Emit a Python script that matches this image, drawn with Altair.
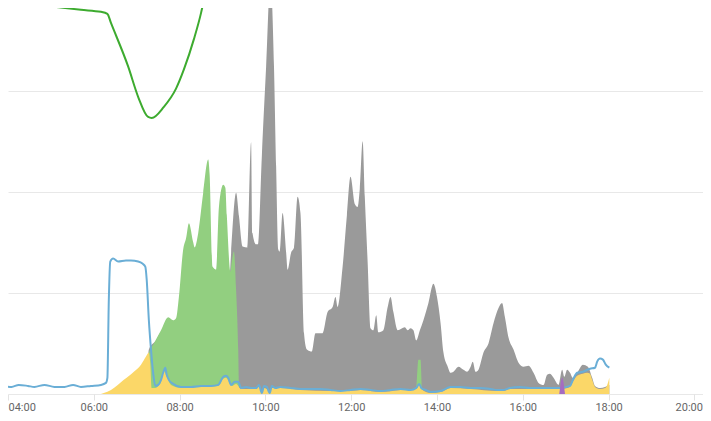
import altair as alt
import pandas as pd

# ---- data (time of day, kW) ----
green_line_times = ["03:51", "04:28", "05:05", "05:42", "06:10", "06:19", "06:24", "06:48", "07:02",
                    "07:16", "07:21", "07:38", "07:55", "08:06", "08:20", "08:30", "08:34", "08:44", "08:58"]
green_line_values = [3.89, 3.86, 3.83, 3.80, 3.78, 3.76, 3.67, 3.24, 2.94,
                     2.74, 2.73, 2.84, 3.02, 3.21, 3.51, 3.77, 3.90, 4.30, 4.80]

blue_times = ["03:51", "04:05", "04:15", "04:28", "04:37", "04:51", "05:05", "05:19", "05:31", "05:42",
              "05:56", "06:10", "06:17", "06:19", "06:21", "06:23", "06:27", "06:34", "06:45", "06:52",
              "07:02", "07:08", "07:12", "07:14", "07:17", "07:20", "07:23", "07:26", "07:30", "07:34",
              "07:37", "07:40", "07:42", "07:45", "07:51", "08:02", "08:16", "08:30", "08:44", "08:54",
              "09:01", "09:05", "09:08", "09:12", "09:17", "09:22", "09:26", "09:33", "09:40", "09:47",
              "09:51", "09:55", "09:58", "10:02", "10:06", "10:09", "10:14", "10:21", "10:35", "10:49",
              "11:03", "11:17", "11:31", "11:45", "11:59", "12:13", "12:27", "12:41", "12:55", "13:09",
              "13:23", "13:31", "13:35", "13:38", "13:44", "13:51", "14:05", "14:19", "14:33", "14:47",
              "15:01", "15:15", "15:24", "15:33", "15:42", "15:56", "16:10", "16:24", "16:38", "16:52",
              "17:06", "17:10", "17:16", "17:24", "17:34", "17:41", "17:44", "17:48", "17:52", "17:56",
              "18:01"]
blue_values = [0.08, 0.07, 0.09, 0.08, 0.07, 0.09, 0.07, 0.07, 0.09, 0.07,
               0.08, 0.09, 0.11, 0.16, 0.93, 1.31, 1.34, 1.31, 1.32, 1.32,
               1.31, 1.29, 1.26, 1.13, 0.73, 0.44, 0.21, 0.08, 0.09, 0.14,
               0.21, 0.26, 0.19, 0.14, 0.10, 0.07, 0.07, 0.08, 0.08, 0.09,
               0.17, 0.18, 0.16, 0.09, 0.12, 0.12, 0.06, 0.07, 0.06, 0.06,
               0.09, 0.01, 0.08, 0.07, 0.01, 0.08, 0.06, 0.07, 0.06, 0.05,
               0.05, 0.05, 0.04, 0.03, 0.04, 0.05, 0.04, 0.03, 0.04, 0.05,
               0.04, 0.06, 0.10, 0.06, 0.04, 0.02, 0.03, 0.07, 0.07, 0.06,
               0.06, 0.05, 0.04, 0.04, 0.06, 0.07, 0.06, 0.06, 0.06, 0.06,
               0.08, 0.14, 0.21, 0.22, 0.25, 0.26, 0.32, 0.35, 0.34, 0.29,
               0.26]

yellow_times = ["06:10", "06:14", "06:24", "06:42", "06:56", "07:06", "07:13", "07:17", "07:19", "07:21",
                "07:26", "07:34", "07:38", "07:42", "07:48", "08:02", "08:30", "08:54", "09:01", "09:05",
                "09:09", "09:13", "09:19", "09:26", "09:47", "09:51", "09:55", "09:58", "10:02", "10:06",
                "10:09", "10:21", "10:49", "11:31", "11:59", "12:13", "12:41", "13:09", "13:31", "13:35",
                "13:38", "13:51", "14:05", "14:19", "14:47", "15:24", "15:33", "15:42", "16:52", "17:06",
                "17:10", "17:16", "17:24", "17:30", "17:34", "17:37", "17:41", "17:48", "17:55", "17:58",
                "18:01"]
yellow_values = [0.00, 0.01, 0.04, 0.14, 0.22, 0.29, 0.37, 0.41, 0.30, 0.06,
                 0.06, 0.12, 0.23, 0.17, 0.09, 0.06, 0.07, 0.08, 0.15, 0.16,
                 0.12, 0.08, 0.10, 0.05, 0.05, 0.07, 0.01, 0.06, 0.05, 0.01,
                 0.06, 0.06, 0.04, 0.03, 0.03, 0.04, 0.02, 0.04, 0.05, 0.09,
                 0.05, 0.01, 0.02, 0.06, 0.05, 0.03, 0.03, 0.05, 0.05, 0.07,
                 0.12, 0.18, 0.20, 0.21, 0.20, 0.14, 0.07, 0.05, 0.06, 0.09,
                 0.16]

green_times = ["07:14", "07:17", "07:24", "07:34", "07:44", "07:51", "07:55", "07:59", "08:05", "08:09",
               "08:13", "08:19", "08:21", "08:26", "08:33", "08:40", "08:42", "08:46", "08:51", "08:55",
               "09:01", "09:04", "09:06", "09:11", "09:13", "09:16", "09:19", "09:22", "09:23", "09:24",
               "13:30", "13:31", "13:34", "13:37", "13:39", "13:41"]
green_values = [0.00, 0.40, 0.50, 0.63, 0.76, 0.73, 0.75, 0.96, 1.43, 1.54,
                1.69, 1.50, 1.45, 1.59, 1.99, 2.32, 2.17, 1.26, 1.23, 1.85,
                2.07, 2.04, 1.77, 1.21, 1.31, 1.41, 1.03, 0.44, 0.09, 0.00,
                0.00, 0.06, 0.34, 0.34, 0.06, 0.00]

gray_times = ["07:14", "07:17", "07:27", "07:37", "07:48", "08:30", "09:06", "09:12", "09:19", "09:23",
              "09:28", "09:35", "09:40", "09:42", "09:47", "09:50", "09:55", "10:01", "10:07", "10:12",
              "10:15", "10:18", "10:20", "10:24", "10:29", "10:31", "10:36", "10:40", "10:45", "10:49",
              "10:54", "10:58", "11:05", "11:10", "11:20", "11:27", "11:34", "11:38", "11:41", "11:48",
              "11:54", "11:59", "12:05", "12:09", "12:12", "12:16", "12:19", "12:23", "12:27", "12:31",
              "12:35", "12:38", "12:45", "12:51", "12:55", "12:59", "13:05", "13:15", "13:19", "13:23",
              "13:27", "13:31", "13:36", "13:41", "13:48", "13:55", "14:00", "14:05", "14:09", "14:15",
              "14:19", "14:23", "14:30", "14:37", "14:42", "14:47", "14:50", "14:54", "14:58", "15:05",
              "15:12", "15:19", "15:26", "15:31", "15:35", "15:40", "15:47", "15:54", "16:01", "16:08",
              "16:15", "16:22", "16:29", "16:34", "16:38", "16:43", "16:50", "16:55", "16:58", "17:02",
              "17:06", "17:10", "17:16", "17:24", "17:31", "17:37", "17:41", "17:48", "17:55", "18:01"]
gray_values = [0.00, 0.44, 0.53, 0.63, 0.63, 0.53, 0.63, 1.39, 1.99, 1.76,
               1.46, 1.45, 2.49, 1.59, 1.48, 1.48, 2.35, 3.24, 4.10, 3.24,
               2.25, 1.43, 1.41, 1.79, 1.40, 1.23, 1.40, 1.45, 1.95, 1.79,
               0.60, 0.44, 0.42, 0.60, 0.60, 0.81, 0.86, 0.96, 0.86, 1.26,
               1.77, 2.15, 1.88, 1.85, 2.03, 2.50, 1.95, 1.30, 0.65, 0.63,
               0.78, 0.61, 0.63, 0.86, 0.96, 0.81, 0.63, 0.66, 0.63, 0.65,
               0.63, 0.53, 0.63, 0.73, 0.90, 1.09, 0.96, 0.70, 0.41, 0.27,
               0.21, 0.22, 0.27, 0.24, 0.22, 0.27, 0.32, 0.22, 0.24, 0.41,
               0.50, 0.70, 0.85, 0.90, 0.76, 0.56, 0.44, 0.31, 0.27, 0.28,
               0.21, 0.11, 0.09, 0.19, 0.20, 0.16, 0.09, 0.24, 0.17, 0.24,
               0.21, 0.16, 0.21, 0.29, 0.27, 0.16, 0.08, 0.06, 0.07, 0.09]

purple_times = ["16:51", "16:55", "16:59"]
purple_values = [0.00, 0.16, 0.00]

tick_hours = [4, 6, 8, 10, 12, 14, 16, 18, 20]
grid_values = [0, 1, 2, 3]


def hours(t):
    h, m = t.split(":")
    return int(h) + int(m) / 60.0


def frame(times, values):
    return pd.DataFrame({"h": [hours(t) for t in times], "v": values})


x_scale = alt.Scale(domain=[4.0, 20.2], nice=False, zero=False)
y_scale = alt.Scale(domain=[0, 3.818], nice=False, zero=False)

x_axis = alt.Axis(values=tick_hours, labelExpr="format(datum.value, '02d') + ':00'",
                  grid=False, domain=False, ticks=True, tickColor="#e3e3e3", tickSize=6,
                  labelPadding=1, labelFont="Roboto", labelFontSize=11, labelColor="#666666",
                  labelAlign={"condition": [{"test": "datum.value == 20", "value": "right"},
                                            {"test": "datum.value == 4", "value": "left"}],
                              "value": "center"},
                  labelOffset={"condition": {"test": "datum.value == 20", "value": 8},
                               "value": 0},
                  labelFlush=False, labelOverlap=False, title=None)
y_axis = alt.Axis(values=grid_values, grid=True, gridColor="#e8e8e8", gridWidth=1,
                  labels=False, ticks=False, domain=False, title=None)


def enc(ch):
    return ch.encode(
        x=alt.X("h:Q", scale=x_scale, axis=x_axis),
        y=alt.Y("v:Q", scale=y_scale, axis=y_axis),
    )


gray = enc(alt.Chart(frame(gray_times, gray_values)).mark_area(
    color="#9a9a9a", interpolate="monotone", clip=True, opacity=1))
green = enc(alt.Chart(frame(green_times, green_values)).mark_area(
    color="#92cf80", interpolate="monotone", clip=True, opacity=1))
yellow = enc(alt.Chart(frame(yellow_times, yellow_values)).mark_area(
    color="#fbd768", interpolate="monotone", clip=True, opacity=1))
blue = enc(alt.Chart(frame(blue_times, blue_values)).mark_line(
    color="#6aaed6", strokeWidth=2, interpolate="monotone", clip=True))
purple = enc(alt.Chart(frame(purple_times, purple_values)).mark_area(
    color="#a56cc1", interpolate="monotone", clip=True, opacity=1))
green_line = enc(alt.Chart(frame(green_line_times, green_line_values)).mark_line(
    color="#3dab2f", strokeWidth=2, interpolate="monotone", clip=True))

chart = alt.layer(gray, green, yellow, blue, purple, green_line).properties(
    width=695,
    height=386,
    autosize=alt.AutoSizeParams(type="none"),
    padding={"left": 0, "top": 0, "right": 0, "bottom": 19},
    background="white",
).configure_view(strokeWidth=0)

chart.save("out.html", embed_options={"renderer": "svg", "actions": False})
